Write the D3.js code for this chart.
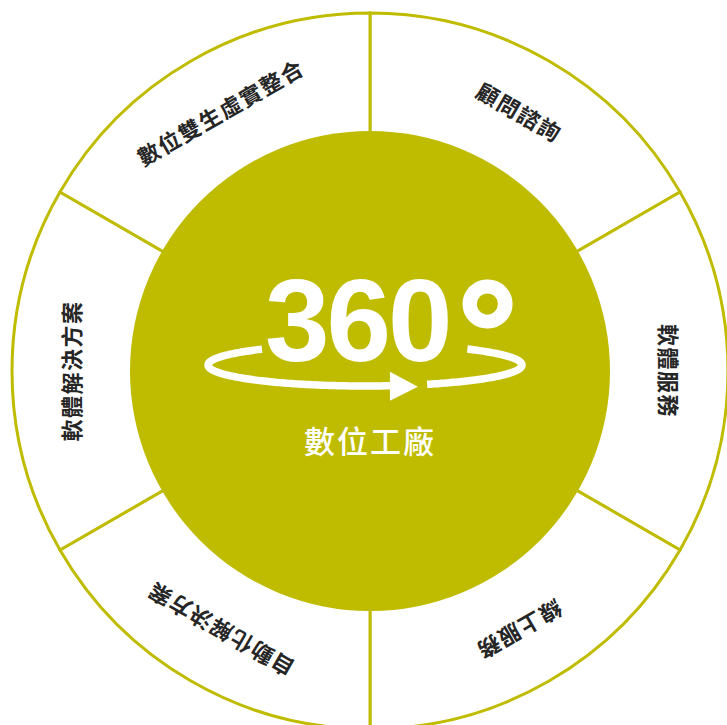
<!DOCTYPE html>
<html>
<head>
<meta charset="utf-8">
<script src="https://cdn.jsdelivr.net/npm/d3@7"></script>
<style>
  html, body { margin: 0; padding: 0; background: #fff; overflow: hidden; }
  svg { display: block; }
</style>
</head>
<body>
<svg id="chart"></svg>
<script>
// segment labels, clockwise from 12 o'clock
const segmentLabels = ["顧問諮詢", "軟體服務", "線上服務", "自動化解決方案", "軟體解決方案", "數位雙生虛實整合"];
const segmentShares = [1, 1, 1, 1, 1, 1];
const centerTitle = "360°";
const centerSubtitle = "數位工廠";

const width = 727, height = 725;
const cx = 370, cy = 371;
const outerR = 358, innerR = 240, labelR = 300;
const olive = "#bfbc00";

const svg = d3.select("#chart")
    .attr("width", width)
    .attr("height", height);

const g = svg.append("g").attr("transform", `translate(${cx},${cy})`);

// F1: the ring of segments
const pie = d3.pie().sort(null).value(d => d)(segmentShares);
const arc = d3.arc().innerRadius(0).outerRadius(outerR);

g.selectAll(".segment")
    .data(pie)
    .enter()
    .append("path")
    .attr("class", "segment")
    .attr("d", arc)
    .style("fill", "white")
    .style("stroke", olive)
    .style("stroke-width", 3);

// F2: labels, tops pointing outward
const toDeg = (rad) => rad * 180 / Math.PI;

g.selectAll(".segLabel")
    .data(pie)
    .enter()
    .append("text")
    .attr("class", "segLabel")
    .attr("transform", (d, i) => `rotate(${toDeg((d.startAngle + d.endAngle) / 2)}) translate(0,${-labelR})`)
    .attr("text-anchor", "middle")
    .attr("dominant-baseline", "central")
    .style("font-family", "'Noto Sans CJK TC', 'Noto Sans CJK SC', sans-serif")
    .style("font-size", "22px")
    .style("font-weight", 700)
    .style("letter-spacing", "1.5px")
    .style("fill", "#262626")
    .text((d, i) => segmentLabels[i]);

// F3: center disc
g.append("circle")
    .attr("r", innerR)
    .style("fill", olive);

// F4: the 360 mark
const title = g.append("text")
    .attr("x", -105)
    .attr("y", -10)
    .attr("text-anchor", "start")
    .style("font-family", "'Liberation Sans', Arial, sans-serif")
    .style("font-weight", 700)
    .style("font-size", "116px")
    .style("letter-spacing", "-3px")
    .style("fill", "white");
title.append("tspan").text(centerTitle.slice(0, 3));
title.append("tspan")
    .attr("dx", 8)
    .attr("dy", 24)
    .style("font-size", "150px")
    .style("stroke", "white")
    .style("stroke-width", 3)
    .text(centerTitle.slice(3));

// ellipse arrow round the number
const ell = { x: -5, y: -6, rx: 157, ry: 21 };
const ellipsePoint = (deg) => {
    const t = deg * Math.PI / 180;
    return [ell.x + ell.rx * Math.cos(t), ell.y + ell.ry * Math.sin(t)];
};
const ellLine = d3.line();
const ellipseSegments = [[229, 80.5], [66.7, -49]];

g.selectAll(".ellSeg")
    .data(ellipseSegments)
    .enter()
    .append("path")
    .attr("class", "ellSeg")
    .attr("d", (d) => ellLine(d3.range(d[0], d[1] - 0.5, -1).concat([d[1]]).map(ellipsePoint)))
    .style("fill", "none")
    .style("stroke", "white")
    .style("stroke-width", 7.5);

// arrow head at the end of the first segment
const tip = ellipsePoint(80.5);
g.append("path")
    .attr("d", `M${tip[0] - 1},${tip[1] - 14} L${tip[0] + 27},${tip[1] + 1} L${tip[0] - 1},${tip[1] + 15} Z`)
    .style("fill", "white");

g.append("text")
    .attr("x", 0)
    .attr("y", 68)
    .attr("text-anchor", "middle")
    .attr("dominant-baseline", "central")
    .style("font-family", "'Noto Sans CJK TC', 'Noto Sans CJK SC', sans-serif")
    .style("font-size", "31px")
    .style("font-weight", 500)
    .style("letter-spacing", "2px")
    .style("fill", "white")
    .text(centerSubtitle);
</script>
</body>
</html>
